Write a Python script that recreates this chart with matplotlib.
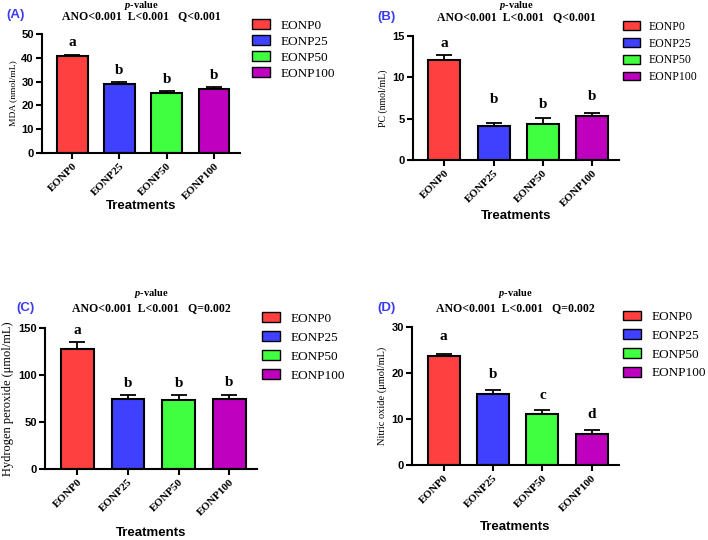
import matplotlib
matplotlib.use("Agg")
import matplotlib.pyplot as plt
from matplotlib.patches import Patch

# ---------- Data ----------
treatments = ["EONP0", "EONP25", "EONP50", "EONP100"]
colors = ["#FF4040", "#4040FF", "#40FF40", "#BF00BF"]

mda = [40.7, 29.0, 25.1, 27.1]
mda_err = [0.6, 0.7, 0.9, 0.8]
mda_letters = ["a", "b", "b", "b"]

pc = [12.1, 4.1, 4.35, 5.35]
pc_err = [0.65, 0.4, 0.7, 0.37]
pc_letters = ["a", "b", "b", "b"]

h2o2 = [127.3, 74.8, 73.8, 74.8]
h2o2_err = [7.5, 3.6, 4.5, 4.3]
h2o2_letters = ["a", "b", "b", "b"]

no = [23.7, 15.4, 11.0, 6.75]
no_err = [0.45, 1.0, 0.9, 0.8]
no_letters = ["a", "b", "c", "d"]

pvals = ["ANO<0.001  L<0.001   Q<0.001",
         "ANO<0.001  L<0.001   Q<0.001",
         "ANO<0.001  L<0.001   Q=0.002",
         "ANO<0.001  L<0.001   Q=0.002"]

SERIF = "Liberation Serif"
SANS = "Liberation Sans"

plt.rcParams["mathtext.fontset"] = "custom"
plt.rcParams["mathtext.bfit"] = "Liberation Serif:italic:bold"

W, H = 708, 540
fig = plt.figure(figsize=(W / 100, H / 100), dpi=100)


def px_axes(l, t, r, b):
    return fig.add_axes([l / W, 1 - b / H, (r - l) / W, (b - t) / H])


def panel(rect, vals, errs, letters, ymax, ystep, ylabel, ylab_size, tag, pv,
          tag_xy, pv_y, treat_y, leg_xy, leg_size, leg_space, letter_off):
    ax = px_axes(*rect)
    x = range(len(vals))
    ax.bar(x, vals, width=0.65, color=colors, edgecolor="black", linewidth=1.5,
           zorder=2)
    ax.errorbar(x, vals, yerr=[[0] * len(errs), errs], fmt="none",
                ecolor="black", elinewidth=1.3, capsize=6, capthick=1.3,
                zorder=1)
    for i, (v, e, l) in enumerate(zip(vals, errs, letters)):
        ax.annotate(l, (i, v + e), xytext=(0, letter_off[i]),
                    textcoords="offset points", ha="center", va="bottom",
                    fontsize=11, fontweight="bold", family=SERIF)
    ax.set_xlim(-0.64, 3.55)
    ax.set_ylim(0, ymax)
    ax.set_yticks(range(0, ymax + 1, ystep))
    ax.set_xticks(list(x))
    ax.set_xticklabels(treatments, rotation=45, ha="right",
                       rotation_mode="anchor", family=SERIF,
                       fontweight="bold", fontsize=8)
    for lab in ax.get_yticklabels():
        lab.set_family(SANS)
        lab.set_fontweight("bold")
        lab.set_fontsize(8)
    for s in ["top", "right"]:
        ax.spines[s].set_visible(False)
    for s in ["left", "bottom"]:
        ax.spines[s].set_linewidth(1.5)
    ax.tick_params(width=1.5, length=4, pad=2)
    ax.set_ylabel(ylabel, family=SERIF, fontsize=ylab_size, labelpad=3)

    cx = (rect[0] + rect[2]) / 2
    fig.text(cx / W, 1 - pv_y[0] / H, r"$\mathbfit{p}$-value", ha="center",
             va="center", family=SERIF, fontweight="bold", fontsize=7.5)
    fig.text(cx / W, 1 - pv_y[1] / H, pv, ha="center", va="center",
             family=SERIF, fontweight="bold", fontsize=8.5)
    fig.text(tag_xy[0] / W, 1 - tag_xy[1] / H, tag, ha="left", va="center",
             family=SANS, fontweight="bold", fontsize=9.5, color="#3A3AF0")
    fig.text(cx / W, 1 - treat_y / H, "Treatments", ha="center", va="center",
             family=SANS, fontweight="bold", fontsize=9.5)

    handles = [Patch(facecolor=c, edgecolor="black", linewidth=1.0)
               for c in colors]
    fig.legend(handles, treatments, loc="center left",
               bbox_to_anchor=(leg_xy[0] / W, 1 - leg_xy[1] / H),
               frameon=False, prop={"family": SERIF, "size": leg_size},
               handlelength=1.4, handleheight=0.75, labelspacing=leg_space,
               handletextpad=0.8, borderaxespad=0, borderpad=0)
    return ax


panel((42, 34, 240, 153), mda, mda_err, mda_letters, 50, 10,
      "MDA (nmol/mL)", 6.8, "(A)", pvals[0], (6, 15), (5, 16.5), 206,
      (252, 49.5), 9.5, 0.28, [4, 4, 4, 3])
panel((413, 36, 619, 160), pc, pc_err, pc_letters, 15, 5,
      "PC (nmol/mL)", 7, "(B)", pvals[1], (377, 17), (6, 17.5), 216,
      (623, 52), 8.5, 0.4, [3, 12, 5, 7])
panel((45, 328, 257, 469), h2o2, h2o2_err, h2o2_letters, 150, 50,
      "Hydrogen peroxide (μmol/mL)", 9, "(C)", pvals[2], (16, 308),
      (293, 308), 533, (262, 347), 9.5, 0.5, [4, 4, 4, 4])
panel((412, 327, 619, 465), no, no_err, no_letters, 30, 10,
      "Nitric oxide (μmol/mL)", 7.5, "(D)", pvals[3], (377, 308),
      (293, 308), 527, (623, 345), 9.5, 0.48, [8, 6, 6, 7])

fig.savefig("out.png", dpi=100)
